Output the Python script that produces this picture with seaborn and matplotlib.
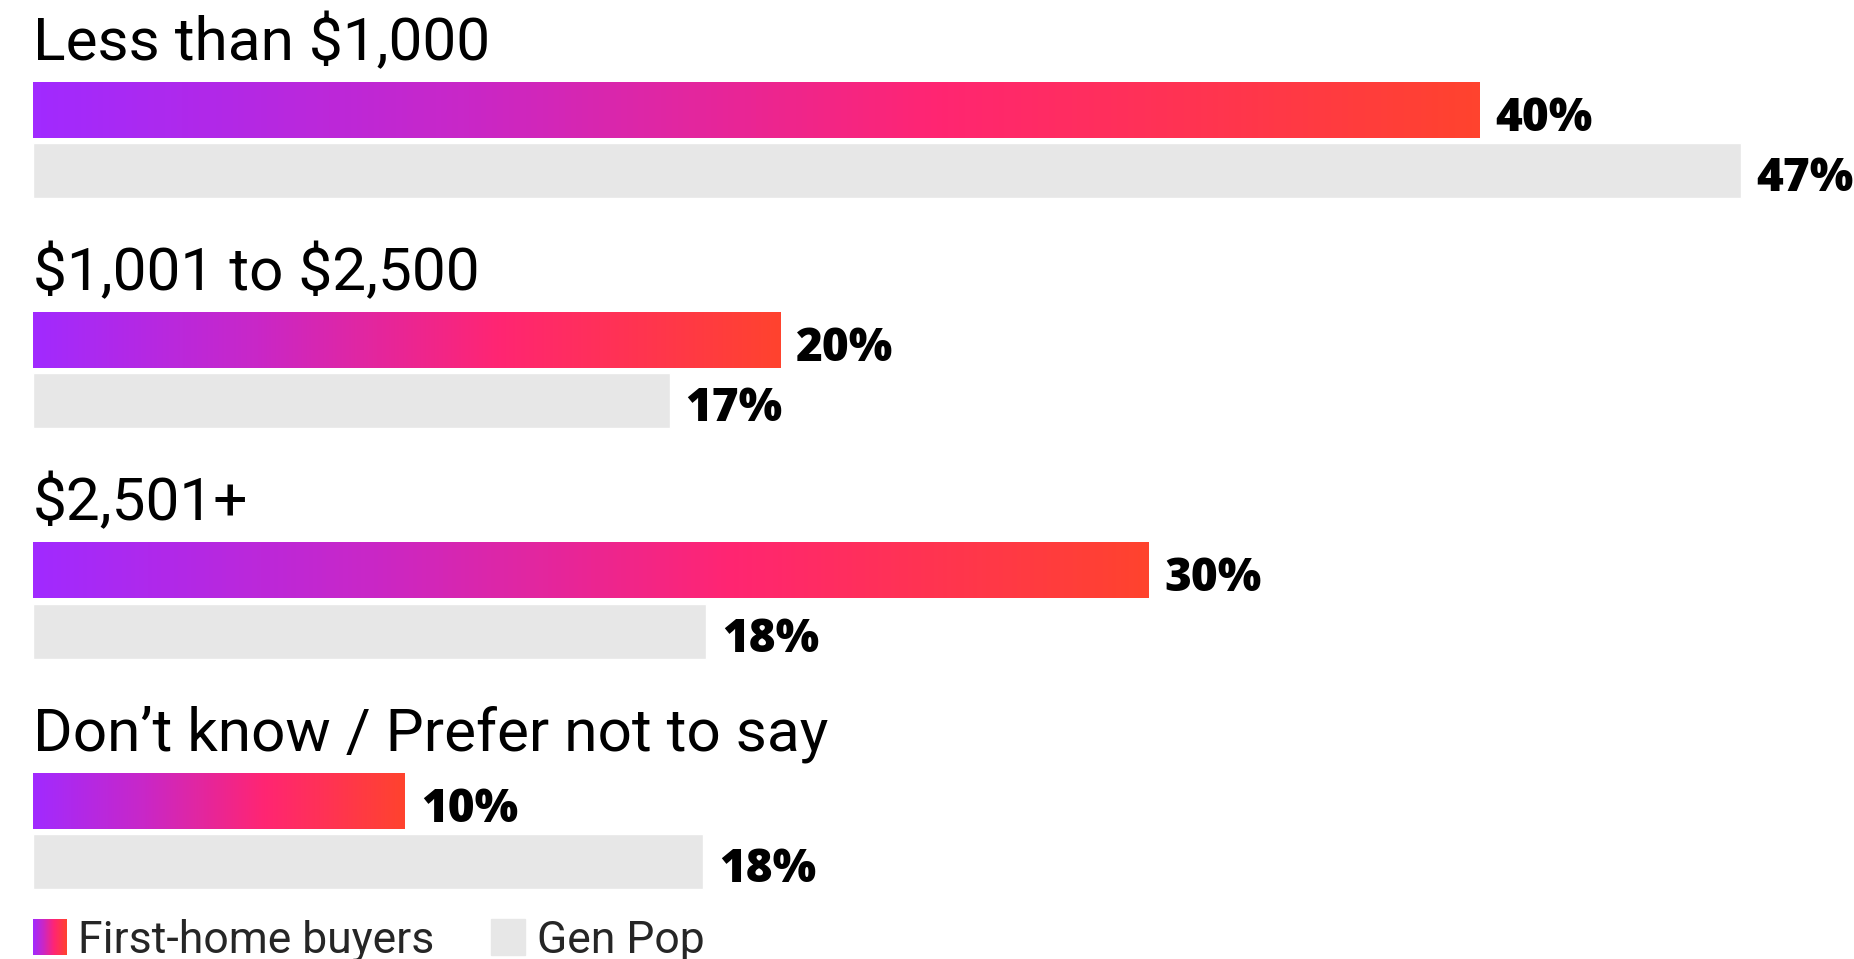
import numpy as np
import pandas as pd
import matplotlib
matplotlib.use("Agg")
import matplotlib.pyplot as plt
from matplotlib.colors import LinearSegmentedColormap
import seaborn as sns

# data
categories = ["Less than $1,000", "$1,001 to $2,500", "$2,501+", "Don\u2019t know / Prefer not to say"]
first_home = [39.3, 20.3, 30.3, 10.1]
gen_pop = [46.4, 17.3, 18.3, 18.2]
first_home_labels = ["40%", "20%", "30%", "10%"]
gen_pop_labels = ["47%", "17%", "18%", "18%"]
series = ["First-home buyers", "Gen Pop"]

df = pd.DataFrame({
    "category": categories * 2,
    "series": [series[0]] * 4 + [series[1]] * 4,
    "value": first_home + gen_pop,
})

sns.set_style("white")
plt.rcParams["font.family"] = ["Roboto", "DejaVu Sans"]
plt.rcParams["text.parse_math"] = False

grad = LinearSegmentedColormap.from_list(
    "fhb", [(0, "#a12aff"), (0.3, "#c927c7"), (0.62, "#ff2573"), (1, "#ff432e")])
GREY = "#e7e7e7"

W, H = 1854, 959
fig = plt.figure(figsize=(W / 100, H / 100), dpi=100)
ax = fig.add_axes([0, 0, 1, 1])

sns.barplot(data=df, y="category", x="value", hue="series", hue_order=series,
            order=categories, palette={series[0]: "#ff2573", series[1]: GREY},
            width=0.522, gap=0.084, legend=False, ax=ax, orient="h", saturation=1)

# pixel mapping: 36.8 px per %, bars start at x=33px; group pitch ~230px
ppu = 36.8
pitch = 230.25
top = 140.5
xlim = (-33 / ppu, (W - 33) / ppu)
ylim = ((H - top) / pitch, -top / pitch)

# gradient fill on first-home bars
g = np.linspace(0, 1, 256).reshape(1, -1)
for bar in ax.containers[0]:
    x0, y0 = bar.get_x(), bar.get_y()
    w, h = bar.get_width(), bar.get_height()
    bar.set_visible(False)
    ax.imshow(g, cmap=grad, aspect="auto", extent=(x0, x0 + w, y0 + h, y0),
              interpolation="bilinear", zorder=2)
ax.set_xlim(*xlim)
ax.set_ylim(*ylim)

# value labels
for cont, labels in zip(ax.containers, [first_home_labels, gen_pop_labels]):
    for bar, lab in zip(cont, labels):
        yc = bar.get_y() + bar.get_height() / 2
        ax.text(bar.get_x() + bar.get_width() + 16 / ppu, yc + 20.5 / pitch, lab,
                family=["Open Sans", "DejaVu Sans"], weight="heavy", fontsize=33,
                ha="left", va="baseline", color="black")

# category labels above groups
for i, cat in enumerate(categories):
    ax.text(0, i - 0.35, cat, fontsize=43.5, ha="left", va="baseline", color="black")

ax.set_axis_off()

# legend
lax = fig.add_axes([33 / W, (H - 955) / H, 34 / W, 36 / H])
lax.imshow(g, cmap=grad, aspect="auto", interpolation="bilinear")
lax.set_axis_off()
fig.patches.append(plt.Rectangle((491 / W, (H - 955) / H), 34 / W, 36 / H,
                                 transform=fig.transFigure, color=GREY))
fig.text(78 / W, (H - 953) / H, "First-home buyers", fontsize=32, va="baseline")
fig.text(537 / W, (H - 953) / H, "Gen Pop", fontsize=32, va="baseline")

fig.savefig("out.png", dpi=100, facecolor="white")
